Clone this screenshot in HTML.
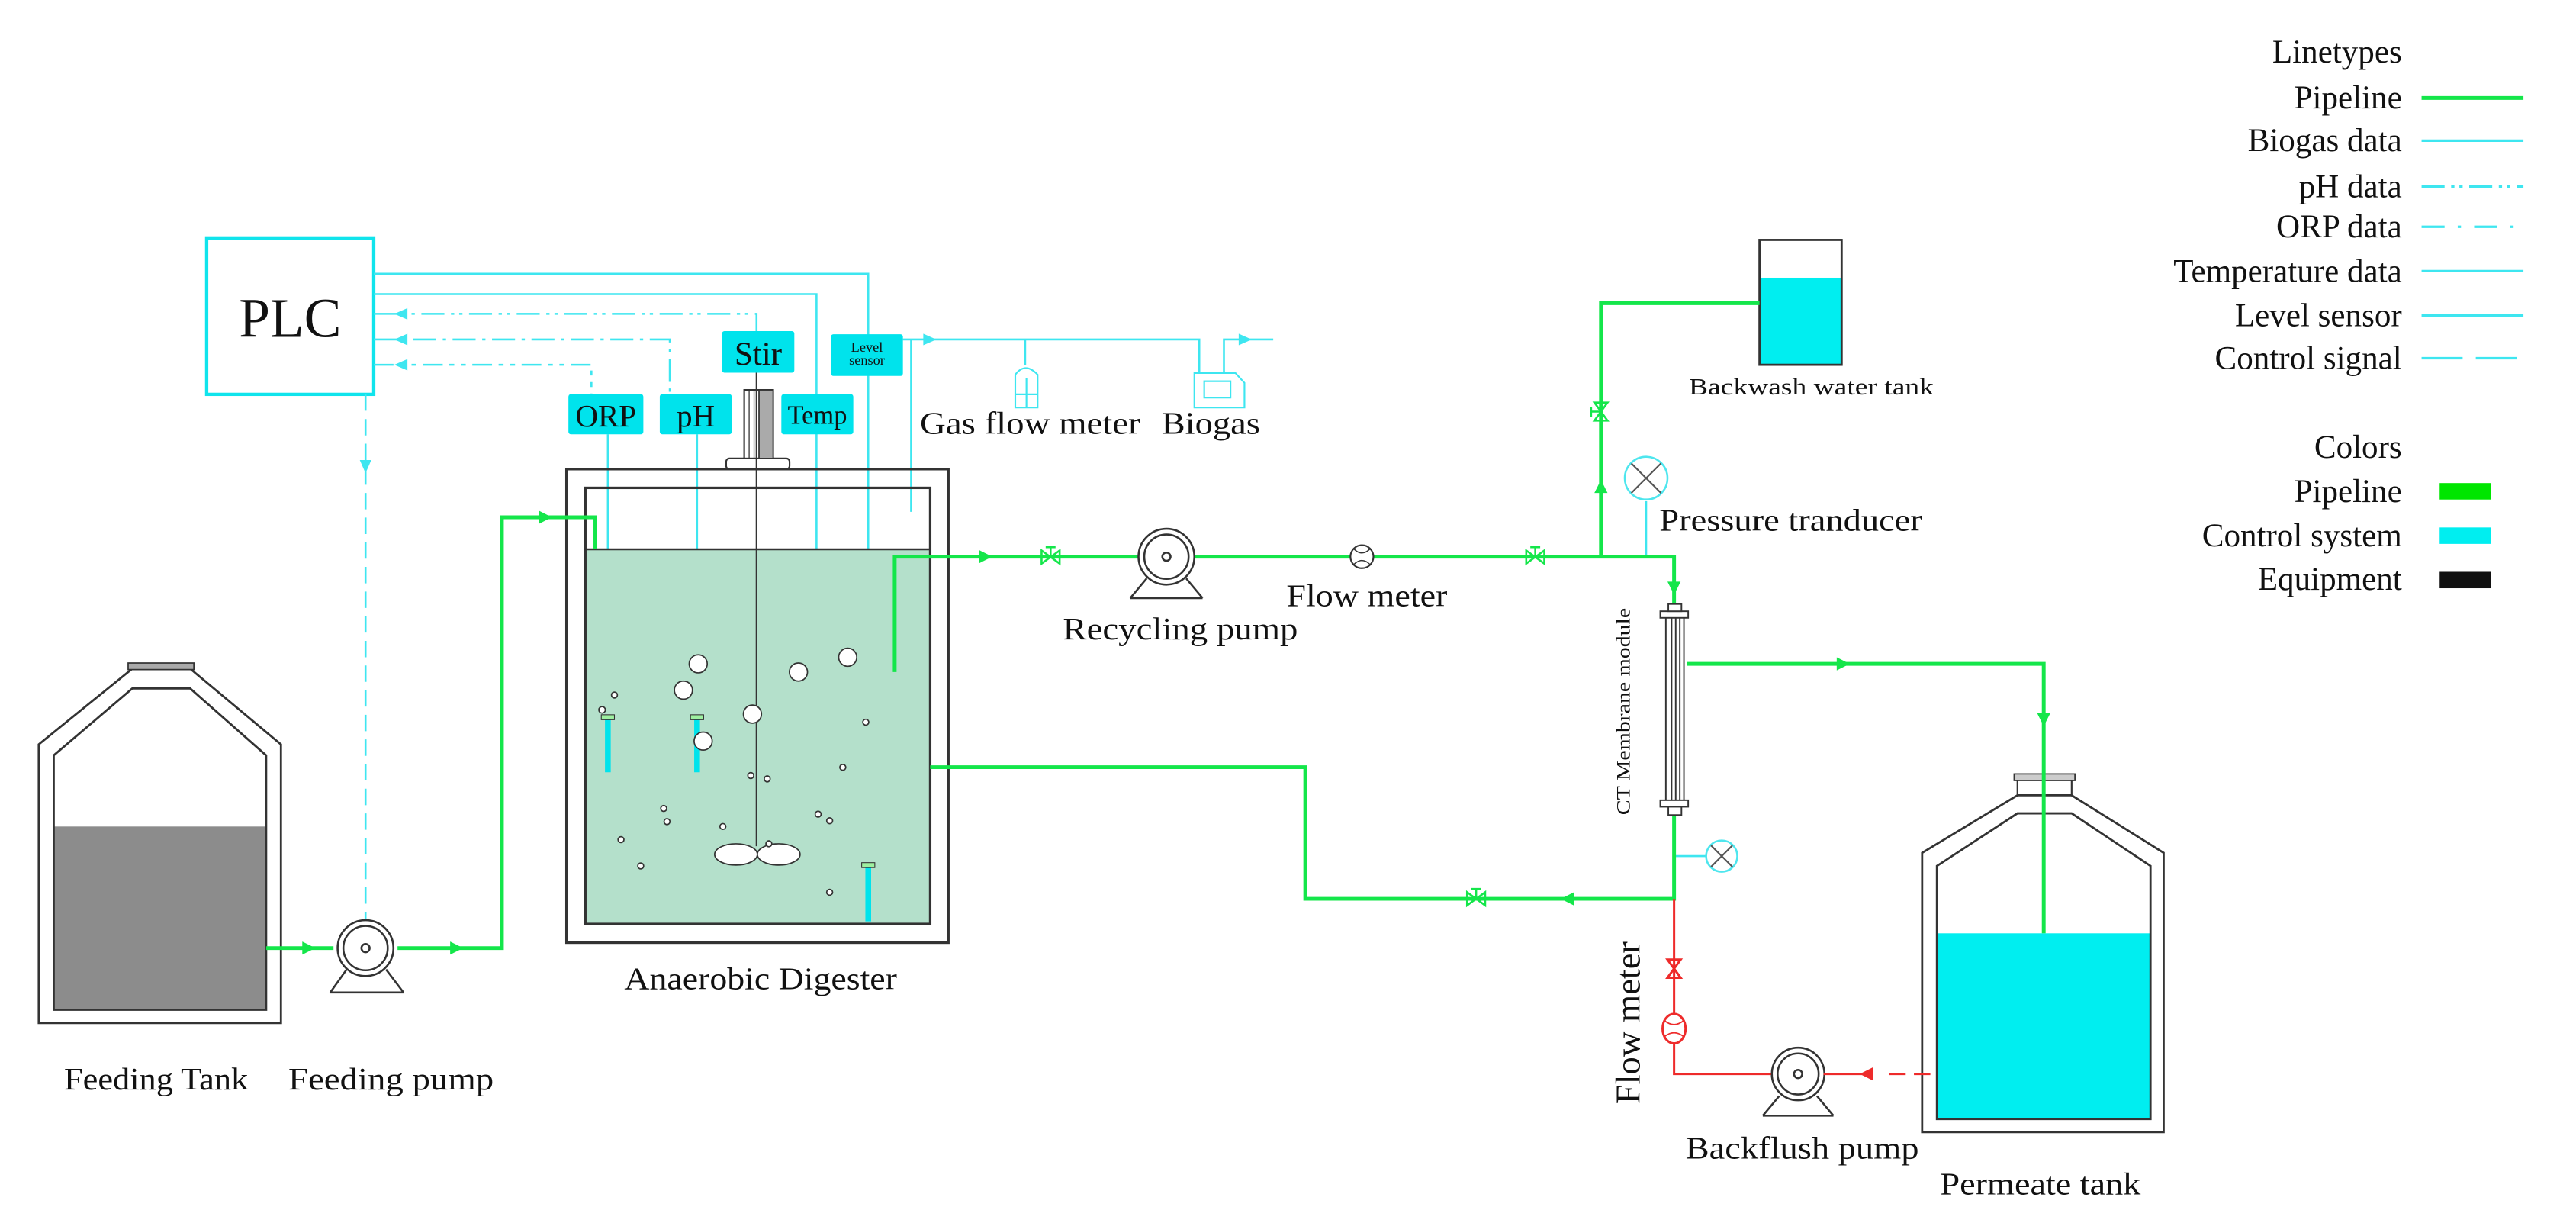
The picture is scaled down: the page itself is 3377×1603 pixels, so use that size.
<!DOCTYPE html>
<html><head><meta charset="utf-8"><style>
html,body{margin:0;padding:0;background:#fff;}
svg{display:block;}
text{font-family:"Liberation Serif",serif;fill:#111;}
</style></head><body>
<svg width="3377" height="1603" viewBox="0 0 1568 744.3" xmlns="http://www.w3.org/2000/svg">
<defs>
<marker id="ag" viewBox="0 0 10 10" refX="5" refY="5" markerWidth="4" markerHeight="4" orient="auto"><path d="M0,1 L10,5 L0,9 z" fill="#14e64a"/></marker>
</defs>
<rect width="1568" height="744.3" fill="#fff"/>

<!-- PLC -->
<rect x="125.8" y="144.8" width="101.7" height="95.2" fill="none" stroke="#10e4ec" stroke-width="2"/>
<text x="176.6" y="205" font-size="34" text-anchor="middle">PLC</text>

<!-- Signal lines -->
<g fill="none" stroke="#3ee6f0" stroke-width="1.2">
<polyline points="227.5,166.6 528.5,166.6 528.5,560.7"/>
<polyline points="227.5,179 497,179 497,396"/>
<polyline points="227.5,191 460.5,191 460.5,201.5" stroke-dasharray="14,4,2,3,2,4"/>
<polyline points="227.5,206.6 407.7,206.6 407.7,239.9" stroke-dasharray="14,4,2,4"/>
<polyline points="227.5,222 360,222 360,239.9" stroke-dasharray="12,4,3,4,3,4"/>
<line x1="222.5" y1="240" x2="222.5" y2="560" stroke-dasharray="10,5"/>
<!-- gas -->
<polyline points="549.6,206.6 730,206.6 730,227"/>
<polyline points="745,227 745,206.6 775,206.6"/>
<line x1="554.6" y1="206.6" x2="554.6" y2="311.5"/>
<line x1="624" y1="206.6" x2="624" y2="222"/>
<!-- probes -->
<line x1="370" y1="264.3" x2="370" y2="437"/>
<line x1="424.3" y1="264.3" x2="424.3" y2="437"/>
<!-- pressure transducers -->
<line x1="1002" y1="305" x2="1002" y2="338.8"/>
<line x1="1019" y1="521" x2="1038" y2="521"/>
</g>
<g fill="#3ee6f0">
<path d="M240,191 l8,-3.5 v7z"/><path d="M240,206.6 l8,-3.5 v7z"/><path d="M240,222 l8,-3.5 v7z"/>
<path d="M222.5,288 l-3.5,-8 h7z"/>
<path d="M570,206.6 l-8,-3.5 v7z"/><path d="M762,206.6 l-8,-3.5 v7z"/>
</g>
<!-- gas devices -->
<g fill="none" stroke="#3ee6f0" stroke-width="1">
<path d="M618,248 V228 Q624,220 631.6,228 V248 Z M618,240 H631.6 M624.8,230 V248"/>
<path d="M727,248 V227 H752 L757.5,233 V248 Z"/><rect x="733" y="232" width="16" height="10"/>
</g>

<!-- Sensor boxes -->
<g fill="#00e3ec">
<rect x="439.5" y="201.5" width="44" height="25.3" rx="1.5"/>
<rect x="505.8" y="203.4" width="43.8" height="25.4" rx="1.5"/>
<rect x="346" y="239.9" width="45.6" height="24.4" rx="1.5"/>
<rect x="401.6" y="239.9" width="43.8" height="24.4" rx="1.5"/>
<rect x="475.6" y="239.9" width="43.8" height="24.4" rx="1.5"/>
</g>
<text x="461.5" y="222" font-size="20" text-anchor="middle">Stir</text>
<text x="527.7" y="214" font-size="8.5" text-anchor="middle">Level</text>
<text x="527.7" y="222" font-size="8.5" text-anchor="middle">sensor</text>
<text x="368.8" y="259.5" font-size="19" text-anchor="middle">ORP</text>
<text x="423.5" y="259.5" font-size="19" text-anchor="middle">pH</text>
<text x="497.5" y="258" font-size="16" text-anchor="middle">Temp</text>

<!-- Digester -->
<rect x="356.3" y="334.3" width="209.9" height="228" fill="#b4e0cb"/>
<rect x="344.8" y="285.5" width="232.5" height="288.2" fill="none" stroke="#333" stroke-width="1.5"/>
<rect x="356.3" y="296.9" width="209.9" height="265.4" fill="none" stroke="#333" stroke-width="1.5"/>
<line x1="356.3" y1="334.3" x2="566.2" y2="334.3" stroke="#333" stroke-width="1.2"/>
<rect x="442" y="279" width="38.6" height="6.5" rx="2" fill="#fff" stroke="#333" stroke-width="1"/>
<rect x="453" y="237.3" width="17.6" height="41.7" fill="#fff" stroke="#333" stroke-width="1"/>
<rect x="462" y="237.3" width="8.6" height="41.7" fill="#aaa" stroke="#333" stroke-width="0.8"/>
<line x1="456" y1="237.3" x2="456" y2="279" stroke="#333" stroke-width="0.6"/>
<line x1="459" y1="237.3" x2="459" y2="279" stroke="#333" stroke-width="0.6"/>
<line x1="460.5" y1="226.8" x2="460.5" y2="515" stroke="#333" stroke-width="1"/>
<ellipse cx="448" cy="520" rx="13" ry="6.5" fill="#fff" stroke="#333" stroke-width="0.8"/>
<ellipse cx="474" cy="520" rx="13" ry="6.5" fill="#fff" stroke="#333" stroke-width="0.8"/>
<!-- probe rods -->
<g stroke="#00e3ec" stroke-width="3.5">
<line x1="370" y1="437" x2="370" y2="470"/><line x1="424.3" y1="437" x2="424.3" y2="470"/><line x1="528.5" y1="527" x2="528.5" y2="560.7"/>
</g>
<g fill="#9ef0a0" stroke="#333" stroke-width="0.5"><rect x="366" y="435" width="8" height="3"/><rect x="420.3" y="435" width="8" height="3"/><rect x="524.5" y="525" width="8" height="3"/></g>
<!-- bubbles -->
<g fill="#fff" stroke="#333" stroke-width="0.8">
<circle cx="425" cy="404" r="5.5"/><circle cx="416" cy="420" r="5.5"/><circle cx="486" cy="409" r="5.5"/><circle cx="516" cy="400" r="5.5"/><circle cx="458" cy="434.6" r="5.5"/><circle cx="428" cy="451" r="5.5"/>
<circle cx="374" cy="423" r="1.8"/><circle cx="366.5" cy="432" r="2"/><circle cx="527" cy="439.5" r="1.8"/><circle cx="513" cy="467" r="1.8"/><circle cx="457" cy="472" r="1.8"/><circle cx="467" cy="474" r="1.8"/><circle cx="404" cy="492" r="1.8"/><circle cx="406" cy="500" r="1.8"/><circle cx="440" cy="503" r="1.8"/><circle cx="498" cy="495.5" r="1.8"/><circle cx="505" cy="499.5" r="1.8"/><circle cx="378" cy="511" r="1.8"/><circle cx="390" cy="527" r="1.8"/><circle cx="505" cy="543" r="1.8"/><circle cx="468" cy="513.5" r="1.8"/>
</g>

<!-- Feeding tank -->
<rect x="32.7" y="503" width="129.3" height="111.5" fill="#8c8c8c"/>
<path d="M23.6,622.6 V453 L80.5,407 H115.8 L171,453 V622.6 Z" fill="none" stroke="#333" stroke-width="1.3"/>
<path d="M32.7,614.5 V459.7 L80.5,419 H115.8 L162,459.7 V614.5 Z" fill="none" stroke="#333" stroke-width="1.3"/>
<rect x="78" y="403.5" width="40" height="4" fill="#aaa" stroke="#333" stroke-width="0.8"/>

<!-- Permeate tank -->
<rect x="1179" y="568" width="130" height="113" fill="#00eef0"/>
<path d="M1170,689 V519 L1228,484 H1261 L1317,519 V689 Z" fill="none" stroke="#333" stroke-width="1.3"/>
<path d="M1179,681 V527 L1228,495 H1261 L1309,527 V681 Z" fill="none" stroke="#333" stroke-width="1.3"/>
<rect x="1226" y="471" width="37" height="4" fill="#ccc" stroke="#333" stroke-width="0.8"/>
<line x1="1228" y1="475" x2="1228" y2="484" stroke="#333"/><line x1="1261" y1="475" x2="1261" y2="484" stroke="#333"/>

<!-- Backwash tank -->
<rect x="1071" y="169" width="50" height="53" fill="#00eef0"/>
<rect x="1071" y="146" width="50" height="76" fill="none" stroke="#333" stroke-width="1.3"/>

<!-- Green pipes -->
<g fill="none" stroke="#14e64a" stroke-width="2.3">
<line x1="162" y1="577" x2="203" y2="577" marker-mid="url(#ag)"/>
<polyline points="242,577 305.5,577 305.5,314.8 362.4,314.8 362.4,334.3"/>
<polyline points="544.6,409 544.6,338.8 1019,338.8 1019,367.6"/>
<polyline points="974.5,338.8 974.5,184.5 1071,184.5"/>
<polyline points="1027,404 1244,404 1244,568"/>
<polyline points="566.2,466.9 794.5,466.9 794.5,547 1019,547 1019,496"/>
</g>
<g fill="#14e64a">
<path d="M192,577 l-8,-4 v8z"/><path d="M282,577 l-8,-4 v8z"/><path d="M336,314.8 l-8,-4 v8z"/>
<path d="M604,338.8 l-8,-4 v8z"/><path d="M974.5,292 l-4,8 h8z"/><path d="M1019,362 l-4,-8 h8z"/>
<path d="M1126,404 l-8,-4 v8z"/><path d="M1244,442 l-4,-8 h8z"/><path d="M950,547 l8,-4 v8z"/>
</g>
<!-- valves -->
<g fill="none" stroke="#14e64a" stroke-width="1.2">
<path d="M634,335 v8 l11,-8 v8 z M639.5,339 v-6 m-3,0 h6"/>
<path d="M929,335 v8 l11,-8 v8 z M934.5,339 v-6 m-3,0 h6"/>
<path d="M893,543 v8 l11,-8 v8 z M898.5,547 v-6 m-3,0 h6"/>
<path d="M970.5,245 h8 l-8,11 h8 z M974.5,250.5 h-6 m0,-3 v6"/>
</g>
<!-- flow meter (recycle) -->
<circle cx="829" cy="338.8" r="7" fill="#fff" stroke="#333" stroke-width="1"/>
<path d="M824,334 q5,5 10,0 M824,343.6 q5,-5 10,0" fill="none" stroke="#333" stroke-width="0.7"/>

<!-- Pumps -->
<g fill="#fff" stroke="#333" stroke-width="1.2">
<path d="M201,604 L211,590 M245.6,604 L235,590 M201,604 H245.6"/>
<circle cx="222.5" cy="577" r="17"/><circle cx="222.5" cy="577" r="13.5"/><circle cx="222.5" cy="577" r="2.5"/>
<path d="M688,364 L698,352 M732,364 L722,352 M688,364 H732"/>
<circle cx="710" cy="338.8" r="17"/><circle cx="710" cy="338.8" r="13.5"/><circle cx="710" cy="338.8" r="2.5"/>
<path d="M1073,679 L1083,667 M1116,679 L1106,667 M1073,679 H1116"/>
<circle cx="1094.5" cy="653.6" r="16"/><circle cx="1094.5" cy="653.6" r="12.5"/><circle cx="1094.5" cy="653.6" r="2.5"/>
</g>

<!-- Membrane module -->
<g fill="#fff" stroke="#333" stroke-width="0.9">
<rect x="1014" y="374" width="11" height="116"/>
<rect x="1010.6" y="372" width="17" height="4"/><rect x="1010.6" y="487" width="17" height="4"/>
<rect x="1015.5" y="367.6" width="8" height="4.4"/><rect x="1015.5" y="491" width="8" height="5"/>
<line x1="1017.5" y1="376" x2="1017.5" y2="487"/><line x1="1020" y1="376" x2="1020" y2="487"/><line x1="1022.5" y1="376" x2="1022.5" y2="487"/>
</g>

<!-- Pressure transducers -->
<g fill="#fff" stroke="#4ee6ee" stroke-width="1.2">
<circle cx="1002" cy="291" r="13"/><circle cx="1048" cy="521" r="9.5"/>
</g>
<g stroke="#555" stroke-width="1">
<path d="M993,282 L1011,300 M1011,282 L993,300"/><path d="M1041.5,514.5 L1054.5,527.5 M1054.5,514.5 L1041.5,527.5"/>
</g>

<!-- Red backflush -->
<g fill="none" stroke="#ee2b2b" stroke-width="1.4">
<polyline points="1019,547 1019,653.6 1078,653.6"/>
<line x1="1110" y1="653.6" x2="1135" y2="653.6"/>
<line x1="1150" y1="653.6" x2="1179" y2="653.6" stroke-dasharray="10,5"/>
<path d="M1015,584 h8 l-8,11 h8 z"/>
<ellipse cx="1019" cy="626" rx="7" ry="9" fill="#fff"/>
<path d="M1013,621 q6,5 12,0 M1013,631 q6,-5 12,0" stroke-width="0.8"/>
</g>
<path d="M1132,653.6 l8,-4 v8z" fill="#ee2b2b"/>

<!-- Labels -->
<g font-size="19">
<text x="95" y="663" text-anchor="middle" textLength="112" lengthAdjust="spacingAndGlyphs">Feeding Tank</text>
<text x="238" y="663" text-anchor="middle" textLength="125" lengthAdjust="spacingAndGlyphs">Feeding pump</text>
<text x="463" y="602" text-anchor="middle" textLength="166" lengthAdjust="spacingAndGlyphs">Anaerobic Digester</text>
<text x="560" y="264" textLength="134" lengthAdjust="spacingAndGlyphs">Gas flow meter</text>
<text x="707" y="264" textLength="60" lengthAdjust="spacingAndGlyphs">Biogas</text>
<text x="647" y="389" textLength="143" lengthAdjust="spacingAndGlyphs">Recycling pump</text>
<text x="783" y="369" textLength="98" lengthAdjust="spacingAndGlyphs">Flow meter</text>
<text x="1010" y="323" textLength="160" lengthAdjust="spacingAndGlyphs">Pressure tranducer</text>
<text x="1026" y="705" textLength="142" lengthAdjust="spacingAndGlyphs">Backflush pump</text>
<text x="1181" y="727" textLength="122" lengthAdjust="spacingAndGlyphs">Permeate tank</text>
</g>
<text x="1028" y="240" font-size="14" textLength="149" lengthAdjust="spacingAndGlyphs">Backwash water tank</text>
<text transform="translate(992,496) rotate(-90)" font-size="12" textLength="126" lengthAdjust="spacingAndGlyphs">CT Membrane module</text>
<text transform="translate(998,672) rotate(-90)" font-size="21" textLength="99" lengthAdjust="spacingAndGlyphs">Flow meter</text>

<!-- Legend -->
<g font-size="20" text-anchor="end">
<text x="1462" y="38">Linetypes</text>
<text x="1462" y="66">Pipeline</text>
<text x="1462" y="92">Biogas data</text>
<text x="1462" y="120">pH data</text>
<text x="1462" y="144.5">ORP data</text>
<text x="1462" y="171.5">Temperature data</text>
<text x="1462" y="198.5">Level sensor</text>
<text x="1462" y="224.5">Control signal</text>
<text x="1462" y="278.5">Colors</text>
<text x="1462" y="305.5">Pipeline</text>
<text x="1462" y="332.5">Control system</text>
<text x="1462" y="359">Equipment</text>
</g>
<g fill="none" stroke-width="1.5">
<line x1="1474" y1="59.6" x2="1536" y2="59.6" stroke="#14e64a" stroke-width="2.3"/>
<line x1="1474" y1="85.6" x2="1536" y2="85.6" stroke="#3ee6f0"/>
<line x1="1474" y1="113.6" x2="1536" y2="113.6" stroke="#3ee6f0" stroke-dasharray="14,4,2,3,2,4"/>
<line x1="1474" y1="138" x2="1536" y2="138" stroke="#3ee6f0" stroke-dasharray="14,8,2,8"/>
<line x1="1474" y1="165" x2="1536" y2="165" stroke="#3ee6f0"/>
<line x1="1474" y1="192" x2="1536" y2="192" stroke="#3ee6f0"/>
<line x1="1474" y1="218" x2="1536" y2="218" stroke="#3ee6f0" stroke-dasharray="25,8"/>
</g>
<rect x="1485" y="294" width="31" height="10" fill="#00e600"/>
<rect x="1485" y="321" width="31" height="10" fill="#00eef0"/>
<rect x="1485" y="348" width="31" height="10" fill="#111"/>
</svg>
</body></html>
